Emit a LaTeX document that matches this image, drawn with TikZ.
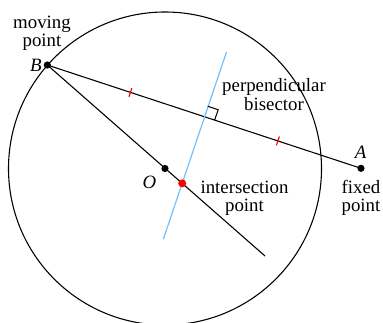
\documentclass[tikz,border=0pt]{standalone}
\usepackage{fontspec}
\setmainfont{Liberation Serif}
\usetikzlibrary{calc,intersections}
\definecolor{bisblue}{RGB}{115,190,250}
\begin{document}
\begin{tikzpicture}[x=0.6pt,y=-0.6pt,
  lab/.style={anchor=base,inner sep=0pt,font=\fontsize{11.3}{11}\selectfont},
  mlab/.style={inner sep=0pt,font=\fontsize{11.3}{11}\selectfont\itshape},
  blk/.style={draw=black,line width=0.65pt},
  bis/.style={draw=bisblue,line width=0.7pt},
  tick/.style={draw=red,line width=0.7pt},
  bdot/.style={circle,fill=black,inner sep=0pt,minimum size=4.3pt},
  rdot/.style={circle,fill=red,inner sep=0pt,minimum size=4.8pt}]
\useasboundingbox (0,0) rectangle (383,322);
% key points
\coordinate (O) at (165,168.5);
\coordinate (B) at (47.3,65);
\coordinate (A) at (361,168.3);
\coordinate (E) at (265,256);
\coordinate (Ptop) at (226.5,52);
\coordinate (Pbot) at (163.3,239.3);
\coordinate (M) at ($(B)!0.5!(A)$);
\coordinate (T1) at ($(B)!0.265!(A)$);
\coordinate (T2) at ($(B)!0.735!(A)$);
% circle
\draw[blk] (O) circle[radius=156.5];
% lines
\draw[blk] (B) -- (A);
\draw[blk] (B) -- (E);
\draw[bis,name path=bisp] (Ptop) -- (Pbot);
\path[name path=radp] (B) -- (E);
\path[name intersections={of=bisp and radp, by=P}];
% ticks
\draw[tick] ($(T1)!2.8pt!90:(A)$) -- ($(T1)!2.8pt!-90:(A)$);
\draw[tick] ($(T2)!2.8pt!90:(A)$) -- ($(T2)!2.8pt!-90:(A)$);
% right angle mark
\coordinate (C1) at ($(M)!6.6pt!(A)$);
\coordinate (C3) at ($(M)!6.6pt!(Ptop)$);
\coordinate (C2) at ($(C1)+(C3)-(M)$);
\draw[blk,line width=0.6pt] (C1) -- (C2) -- (C3);
% dots
\node[bdot] (Bd) at (B) {};
\node[bdot] (Ad) at (A) {};
\node[bdot] (Od) at (O) {};
\node[rdot] (Pd) at (P) {};
% labels
\node[lab] (mv1) at (42,28.3) {moving};
\node[lab] (mv2) at (42,46.7) {point};
\node[mlab] (Bl) at (36,65.5) {B};
\node[mlab] (Al) at (360.5,152.5) {A};
\node[lab] (fx1) at (361,193.5) {fixed};
\node[lab] (fx2) at (361,211.5) {point};
\node[mlab] (Ol) at (149.3,182) {O};
\node[lab] (in1) at (244.5,193) {intersection};
\node[lab] (in2) at (244.5,211) {point};
\node[lab] (pb1) at (274,91.5) {perpendicular};
\node[lab] (pb2) at (274,110) {bisector};
\end{tikzpicture}
\end{document}
